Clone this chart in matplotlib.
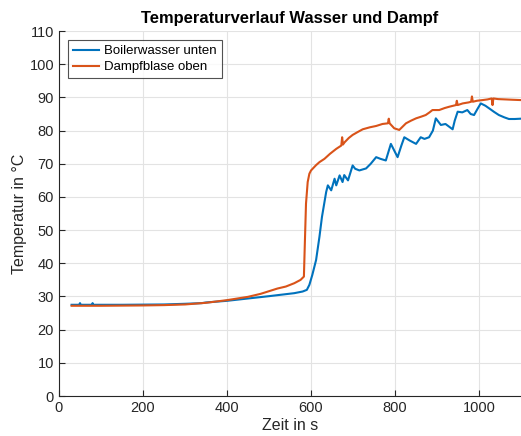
import matplotlib
matplotlib.use("Agg")
import matplotlib.pyplot as plt

plt.rcParams['font.family'] = ['Liberation Sans', 'DejaVu Sans']

# Boilerwasser unten (blue)
t_boiler = [30, 48, 50, 52, 78, 80, 82, 150, 250, 300, 340, 350, 400, 450, 500, 540, 560,
            580, 590, 596, 603, 612, 620, 626, 632, 636, 640, 648, 656, 660, 668, 675, 679,
            688, 699, 705, 715, 731, 742, 755, 765, 778, 790, 806, 815, 822, 835, 850, 861,
            870, 881, 890, 897, 909, 920, 937, 942, 949, 960, 972, 980, 988, 996, 1004,
            1015, 1024, 1035, 1047, 1060, 1071, 1085, 1100]
y_boiler = [27.5, 27.5, 28.0, 27.5, 27.5, 28.0, 27.5, 27.5, 27.6, 27.8, 28.0, 28.2, 28.7, 29.4,
            30.1, 30.7, 31.0, 31.5, 32.0, 33.5, 36.5, 41.0, 48.0, 54.0, 58.5, 61.5, 63.5,
            62.0, 65.5, 63.5, 66.5, 64.5, 66.6, 65.0, 69.5, 68.5, 68.0, 68.6, 70.0, 72.0,
            71.5, 71.0, 76.0, 72.0, 75.5, 78.0, 77.0, 76.0, 78.0, 77.5, 78.0, 80.0, 83.7,
            81.7, 82.0, 80.4, 83.0, 85.7, 85.5, 86.2, 85.0, 84.7, 86.5, 88.2, 87.5, 86.7,
            85.7, 84.7, 84.0, 83.5, 83.5, 83.6]

# Dampfblase oben (orange)
t_dampf = [30, 100, 200, 250, 300, 350, 400, 450, 480, 500, 520, 540, 560, 575, 583, 585,
           588, 592, 596, 600, 612, 620, 632, 645, 651, 660, 672, 674, 676, 680, 690, 699,
           710, 723, 740, 755, 770, 783, 785, 787, 798, 810, 826, 838, 850, 862, 873, 882,
           889, 905, 918, 929, 945, 947, 949, 961, 975, 981, 983, 985, 995, 1008, 1020,
           1030, 1032, 1034, 1045, 1063, 1080, 1100]
y_dampf = [27.2, 27.2, 27.3, 27.4, 27.6, 28.1, 28.9, 29.9, 30.8, 31.6, 32.4, 33.0, 34.0,
           35.0, 36.0, 45.0, 58.0, 64.5, 67.0, 68.0, 69.6, 70.5, 71.5, 73.0, 73.6, 74.5,
           75.5, 78.0, 75.8, 76.5, 77.8, 78.7, 79.5, 80.4, 81.0, 81.4, 82.0, 82.2, 83.6,
           82.2, 80.7, 80.2, 82.2, 83.0, 83.7, 84.2, 84.7, 85.5, 86.2, 86.2, 86.8, 87.2,
           87.7, 89.0, 87.7, 88.2, 88.5, 88.7, 90.3, 88.7, 89.0, 89.2, 89.4, 89.7, 87.7,
           89.7, 89.5, 89.4, 89.3, 89.2]

fig = plt.figure(figsize=(5.21, 4.36), dpi=100)
ax = fig.add_axes([0.1132, 0.0917, 0.887, 0.837])

ax.plot(t_boiler, y_boiler, color='#0072BD', lw=1.5, label='Boilerwasser unten')
ax.plot(t_dampf, y_dampf, color='#D95319', lw=1.5, label='Dampfblase oben')

ax.set_xlim(0, 1100)
ax.set_ylim(0, 110)
ax.set_xticks(range(0, 1001, 200))
ax.set_yticks(range(0, 111, 10))
ax.grid(True, color='#e3e3e3', lw=0.8)
ax.set_axisbelow(True)
for s in ['top', 'right']:
    ax.spines[s].set_visible(False)
for s in ['left', 'bottom']:
    ax.spines[s].set_color('#262626')
    ax.spines[s].set_linewidth(0.8)
ax.tick_params(direction='in', length=4, width=0.8, color='#262626',
               labelsize=10.5, labelcolor='#262626')
ax.set_xlabel('Zeit in s', fontsize=11.5, color='#262626', labelpad=2)
ax.set_ylabel('Temperatur in °C', fontsize=11.5, color='#262626', labelpad=2)
ax.set_title('Temperaturverlauf Wasser und Dampf', fontsize=11.9, fontweight='bold', pad=6)

leg = ax.legend(loc='upper left', fontsize=9.5, frameon=True, fancybox=False,
                edgecolor='#262626', borderpad=0.35, handlelength=2.0, handletextpad=0.4,
                labelspacing=0.3, borderaxespad=0.7)
leg.get_frame().set_linewidth(0.8)

fig.savefig('out.png', dpi=100)
